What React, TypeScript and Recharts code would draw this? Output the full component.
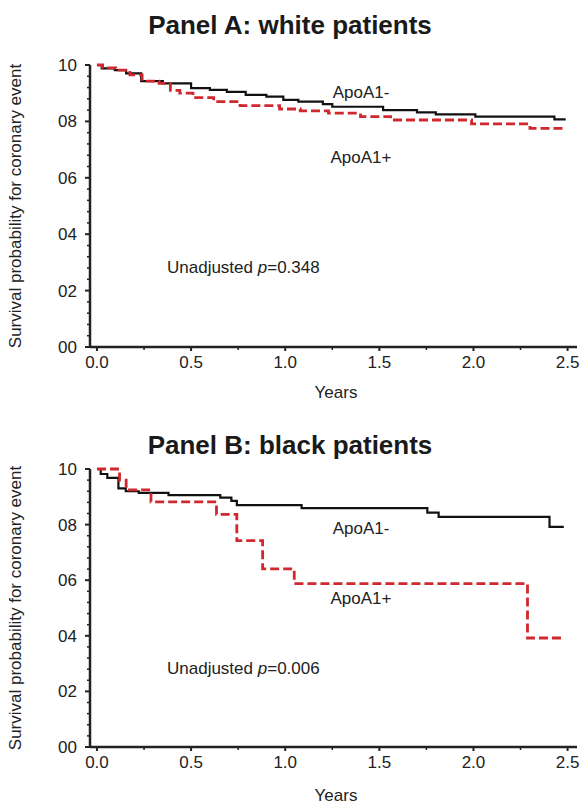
import { LineChart, Line, XAxis, YAxis } from "recharts";

// Kaplan-Meier estimates (time in years, survival 0-1)
const whiteNegTime = [0, 0.025, 0.095, 0.155, 0.235, 0.35, 0.5, 0.6, 0.69, 0.79, 0.9, 0.99, 1.07, 1.2, 1.25, 1.52, 1.7, 1.8, 2.01, 2.43, 2.49];
const whiteNegSurv = [1.0, 0.988, 0.982, 0.97, 0.943, 0.935, 0.918, 0.912, 0.905, 0.894, 0.888, 0.876, 0.87, 0.861, 0.852, 0.84, 0.832, 0.825, 0.817, 0.807, 0.807];

const whitePosTime = [0, 0.03, 0.1, 0.175, 0.24, 0.33, 0.39, 0.44, 0.51, 0.62, 0.76, 0.97, 1.08, 1.23, 1.4, 1.56, 1.99, 2.3, 2.49];
const whitePosSurv = [1.0, 0.99, 0.982, 0.965, 0.943, 0.935, 0.91, 0.9, 0.884, 0.87, 0.856, 0.844, 0.837, 0.829, 0.817, 0.805, 0.791, 0.775, 0.775];

const blackNegTime = [0, 0.02, 0.055, 0.114, 0.153, 0.222, 0.38, 0.655, 0.714, 0.743, 1.087, 1.755, 1.815, 2.404, 2.48];
const blackNegSurv = [1.0, 0.982, 0.968, 0.93, 0.92, 0.914, 0.906, 0.897, 0.885, 0.87, 0.859, 0.843, 0.828, 0.792, 0.792];

const blackPosTime = [0, 0.12, 0.155, 0.287, 0.635, 0.743, 0.88, 1.048, 2.287, 2.47];
const blackPosSurv = [1.0, 0.96, 0.925, 0.882, 0.837, 0.742, 0.641, 0.588, 0.392, 0.392];

const xTicks = [0, 0.25, 0.5, 0.75, 1, 1.25, 1.5, 1.75, 2, 2.25, 2.5];
const xLabelTicks = [0, 0.5, 1, 1.5, 2, 2.5];
const xTickLabels = ["0.0", "0.5", "1.0", "1.5", "2.0", "2.5"];

const yTicks = [0, 0.04, 0.08, 0.12, 0.16, 0.2, 0.24, 0.28, 0.32, 0.36, 0.4, 0.44, 0.48, 0.52, 0.56, 0.6, 0.64, 0.68, 0.72, 0.76, 0.8, 0.84, 0.88, 0.92, 0.96, 1];
const yTickLabels = ["00", "02", "04", "06", "08", "10"];

const FONT = "'Liberation Sans', Arial, Helvetica, sans-serif";
const INK = "#222";
const RED = "#d0282e";
const FS = 17;

const toRows = (t: number[], s: number[]) => t.map((v, i) => ({ t: v, s: s[i] }));

function XTick({ x, y, payload }: any) {
  const idx = xLabelTicks.indexOf(payload.value);
  const major = idx >= 0;
  return (
    <g>
      <line x1={x} x2={x} y1={y} y2={y + (major ? 4 : 3)} stroke={INK} strokeWidth={major ? 2 : 1.5} />
      {major && (
        <text x={x} y={y + 21} textAnchor="middle" fontSize={FS} fontFamily={FONT} fill={INK}>
          {xTickLabels[idx]}
        </text>
      )}
    </g>
  );
}

function YTick({ x, y, payload }: any) {
  const v = payload.value;
  const k = Math.round(v * 5);
  const major = Math.abs(v * 5 - k) < 1e-6;
  return (
    <g>
      <line x1={x - (major ? 5 : 3)} x2={x} y1={y} y2={y} stroke={INK} strokeWidth={major ? 2 : 1.5} />
      {major && (
        <text x={x - 13} y={y + 6} textAnchor="end" fontSize={FS} fontFamily={FONT} fill={INK}>
          {yTickLabels[k]}
        </text>
      )}
    </g>
  );
}

const txt = (left: number, top: number, center = true): React.CSSProperties => ({
  position: "absolute",
  left,
  top,
  transform: center ? "translate(-50%, -50%)" : "translate(0, -50%)",
  whiteSpace: "nowrap",
  lineHeight: 1,
  fontFamily: FONT,
  fontSize: FS,
  color: INK,
});

type PanelProps = {
  top: number;
  marginTop: number;
  marginBottom: number;
  title: string;
  negRows: { t: number; s: number }[];
  posRows: { t: number; s: number }[];
  pValue: string;
  negLabelY: number;
  posLabelY: number;
  pLabelY: number;
  plotMid: number;
  titleY: number;
  yearsY: number;
};

function Panel(p: PanelProps) {
  return (
    <div style={{ position: "absolute", left: 0, top: p.top, width: 581, height: 400 }}>
      <LineChart
        width={581}
        height={400}
        margin={{ top: p.marginTop, right: 4, bottom: p.marginBottom, left: 0 }}
      >
        <XAxis
          type="number"
          dataKey="t"
          domain={[-0.037, 2.55]}
          ticks={xTicks}
          tick={<XTick />}
          tickSize={0}
          tickMargin={0}
          tickLine={false}
          height={30}
          axisLine={{ stroke: INK, strokeWidth: 2.5 }}
          allowDataOverflow
        />
        <YAxis
          type="number"
          domain={[0, 1]}
          ticks={yTicks}
          tick={<YTick />}
          tickSize={0}
          tickMargin={0}
          tickLine={false}
          width={90}
          interval={0}
          axisLine={{ stroke: INK, strokeWidth: 2.5 }}
        />
        <Line
          data={p.negRows}
          dataKey="s"
          type="stepAfter"
          stroke="#111"
          strokeWidth={2.2}
          dot={false}
          isAnimationActive={false}
        />
        <Line
          data={p.posRows}
          dataKey="s"
          type="stepAfter"
          stroke={RED}
          strokeWidth={2.8}
          strokeDasharray="9 4"
          dot={false}
          isAnimationActive={false}
        />
      </LineChart>
      <div style={{ ...txt(290, p.titleY), fontSize: 26, fontWeight: "bold", color: "#1a1a1a" }}>{p.title}</div>
      <div style={txt(361, p.negLabelY)}>ApoA1-</div>
      <div style={txt(361, p.posLabelY)}>ApoA1+</div>
      <div style={txt(167, p.pLabelY, false)}>
        Unadjusted <i>p</i>={p.pValue}
      </div>
      <div style={txt(336, p.yearsY)}>Years</div>
      <div style={{ ...txt(15, p.plotMid), transform: "translate(-50%, -50%) rotate(-90deg)" }}>
        Survival probability for coronary event
      </div>
    </div>
  );
}

export default function App() {
  return (
    <div style={{ position: "absolute", left: 0, top: 0, width: 581, height: 803, background: "#fff", overflow: "hidden" }}>
      <Panel
        top={0}
        marginTop={65}
        marginBottom={23}
        title="Panel A: white patients"
        negRows={toRows(whiteNegTime, whiteNegSurv)}
        posRows={toRows(whitePosTime, whitePosSurv)}
        pValue="0.348"
        negLabelY={92}
        posLabelY={157}
        pLabelY={267}
        plotMid={206}
        titleY={25}
        yearsY={392}
      />
      <Panel
        top={403}
        marginTop={66}
        marginBottom={26}
        title="Panel B: black patients"
        negRows={toRows(blackNegTime, blackNegSurv)}
        posRows={toRows(blackPosTime, blackPosSurv)}
        pValue="0.006"
        negLabelY={125}
        posLabelY={195}
        pLabelY={265}
        plotMid={205}
        titleY={42}
        yearsY={392}
      />
    </div>
  );
}
